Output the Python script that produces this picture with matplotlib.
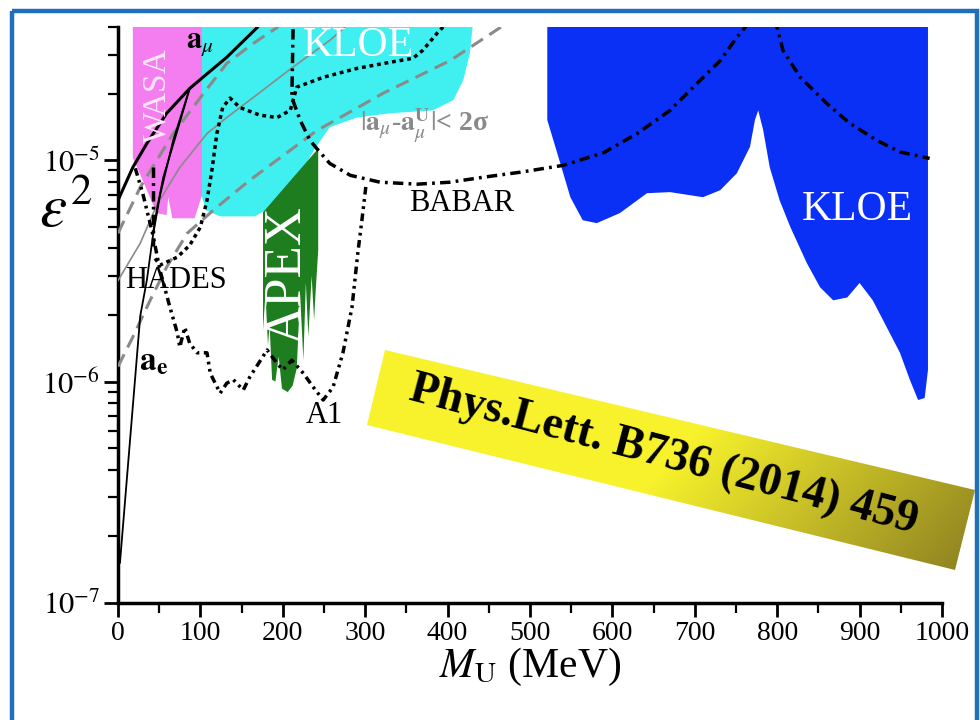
import numpy as np
import matplotlib
matplotlib.use('Agg')
import matplotlib.pyplot as plt
from matplotlib.patches import Polygon, Rectangle
from matplotlib.ticker import LogLocator, NullFormatter, MultipleLocator

plt.rcParams['font.family'] = ['Liberation Serif', 'DejaVu Serif']
plt.rcParams['mathtext.fontset'] = 'stix'

# --- exclusion regions: M_U (MeV) vs eps^2 ---
wasa_m = [18, 18, 47, 59, 61, 66, 93, 100, 102, 102]
wasa_e = [5e-5, 1.03e-5, 5.77e-6, 5.65e-6, 6.81e-6, 5.47e-6, 5.47e-6, 6.61e-6, 6.92e-6, 5e-5]

kloe1_m = [102, 102, 107, 124, 166, 190, 215, 239, 257, 290, 330, 382, 407, 419, 427, 433]
kloe1_e = [5e-5, 6.81e-6, 5.94e-6, 5.58e-6, 5.58e-6, 6.27e-6, 7.96e-6, 1.13e-5, 1.41e-5,
           1.56e-5, 1.63e-5, 1.68e-5, 1.87e-5, 2.30e-5, 3.04e-5, 5e-5]

apex_m = [176, 243, 243, 240, 238, 235, 231, 228, 225, 221, 217, 212, 206, 199, 195,
          191, 187, 184, 182, 179, 176]
apex_e = [5.82e-6, 1.13e-5, 3.93e-6, 2.6e-6, 1.9e-6, 3.0e-6, 1.6e-6, 2.8e-6, 1.25e-6,
          2.5e-6, 1.15e-6, 9.6e-7, 8.97e-7, 9.3e-7, 1.3e-6, 1.0e-6, 1.02e-6, 1.8e-6,
          1.46e-6, 2.5e-6, 1.71e-6]

kloe2_m = [521, 521, 533, 549, 564, 581, 609, 642, 670, 710, 731, 751, 767, 773, 777,
           783, 791, 803, 816, 836, 852, 868, 885, 900, 916, 933, 949, 961, 971, 979, 983, 983]
kloe2_e = [5e-5, 1.52e-5, 1.08e-5, 6.81e-6, 5.36e-6, 5.2e-6, 5.77e-6, 7.1e-6, 7.18e-6,
           6.81e-6, 7.33e-6, 8.73e-6, 1.15e-5, 1.52e-5, 1.68e-5, 1.37e-5, 9.29e-6,
           6.59e-6, 4.99e-6, 3.43e-6, 2.67e-6, 2.33e-6, 2.40e-6, 2.79e-6, 2.33e-6,
           1.76e-6, 1.35e-6, 1.02e-6, 8.26e-7, 8.43e-7, 1.13e-6, 5e-5]

# --- limit curves ---
babar_m = [213, 211, 221, 233, 243, 257, 282, 318, 363, 403, 443, 488, 540, 589, 630,
           670, 703, 731, 751, 761, 780, 800, 807, 828, 860, 888, 921, 949, 985]
babar_e = [5.0e-5, 1.92e-5, 1.52e-5, 1.23e-5, 1.11e-5, 9.68e-6, 8.55e-6, 7.96e-6, 7.80e-6,
           7.96e-6, 8.38e-6, 8.83e-6, 9.48e-6, 1.08e-5, 1.32e-5, 1.68e-5, 2.23e-5,
           2.82e-5, 3.59e-5, 3.98e-5, 5.6e-5, 3.98e-5, 3.14e-5, 2.37e-5, 1.81e-5,
           1.47e-5, 1.23e-5, 1.09e-5, 1.02e-5]

hades_m = [45, 51, 72, 87, 100, 108, 114, 120, 127, 136, 148, 172, 193, 209, 217, 249,
           290, 330, 358, 370, 387, 399]
hades_e = [3.6e-6, 3.36e-6, 3.65e-6, 4.13e-6, 4.99e-6, 6.59e-6, 9.02e-6, 1.32e-5, 1.73e-5,
           1.91e-5, 1.73e-5, 1.60e-5, 1.56e-5, 1.68e-5, 2.14e-5, 2.37e-5, 2.60e-5,
           2.77e-5, 2.89e-5, 3.14e-5, 3.74e-5, 4.17e-5]

a1_m = [21, 30, 42.5, 51, 63, 72, 75, 81, 87, 96, 108, 112, 124, 132, 140, 152, 160, 181,
        193, 200, 211, 225, 237, 249, 261, 273, 284, 291, 296, 301]
a1_e = [9.2e-6, 7.1e-6, 4.58e-6, 3.18e-6, 2.17e-6, 1.66e-6, 1.43e-6, 1.76e-6, 1.49e-6,
        1.35e-6, 1.35e-6, 1.09e-6, 8.87e-7, 9.84e-7, 1.02e-6, 9.16e-7, 1.05e-6, 1.39e-6,
        1.21e-6, 1.13e-6, 1.25e-6, 1.09e-6, 9.44e-7, 8.26e-7, 9.44e-7, 1.35e-6, 2.17e-6,
        3.80e-6, 5.36e-6, 7.71e-6]

tick_m = [43, 43]
tick_e = [9.3e-6, 4.1e-6]

amu_m = [0, 18, 35, 59, 87, 103, 132, 169, 180]
amu_e = [6.59e-6, 9.29e-6, 1.19e-5, 1.63e-5, 2.11e-5, 2.37e-5, 2.92e-5, 3.98e-5, 4.5e-5]

ae_m = [2.4, 27, 35, 42.5, 51, 67, 87]
ae_e = [1.52e-7, 1.98e-6, 2.87e-6, 4.58e-6, 6.95e-6, 1.23e-5, 2.11e-5]

ae2_m = [42.5, 47, 55, 72, 87]
ae2_e = [4.68e-6, 5.94e-6, 8.38e-6, 1.36e-5, 2.11e-5]

band_mid_m = [0, 27, 47, 75, 108, 132, 160, 212, 257, 275]
band_mid_e = [2.86e-6, 4.22e-6, 6.27e-6, 9.29e-6, 1.32e-5, 1.56e-5, 1.87e-5, 2.63e-5,
              3.48e-5, 3.98e-5]

band_hi_m = [0, 27, 67, 100, 132, 164, 193, 205]
band_hi_e = [4.68e-6, 7.55e-6, 1.32e-5, 1.92e-5, 2.74e-5, 3.37e-5, 3.98e-5, 4.5e-5]

band_lo_m = [0, 18, 39, 59, 84, 120, 160, 241, 322, 403, 464, 480]
band_lo_e = [1.17e-6, 1.59e-6, 2.33e-6, 3.29e-6, 4.68e-6, 6.14e-6, 8.13e-6, 1.36e-5,
             2.01e-5, 2.82e-5, 3.98e-5, 4.5e-5]

x_ticks = [0, 100, 200, 300, 400, 500, 600, 700, 800, 900, 1000]
y_ticks = [1e-7, 1e-6, 1e-5]
y_ticklabels = [r'$10^{-7}$', r'$10^{-6}$', r'$10^{-5}$']

fig = plt.figure(figsize=(9.8, 7.2), dpi=100)
ax = fig.add_axes([0.1204, 0.1625, 0.8408, 0.8])
ax.set_yscale('log')

# filled regions
ax.fill(kloe1_m, kloe1_e, color='#40f0f0', lw=0, zorder=1)
ax.fill(wasa_m, wasa_e, color='#f47ef0', lw=0, zorder=1)
ax.fill(apex_m, apex_e, color='#1e7d1e', lw=0, zorder=2)
ax.fill(kloe2_m, kloe2_e, color='#0a2ff5', lw=0, zorder=1)

# lines
gray = '#8a8a8a'
ax.plot(band_mid_m, band_mid_e, color=gray, lw=1.2, zorder=3)
ax.plot(band_hi_m, band_hi_e, color=gray, lw=2.2, dashes=(4.5, 2.5), zorder=3)
ax.plot(band_lo_m, band_lo_e, color=gray, lw=2.2, dashes=(4.5, 2.5), zorder=3)
ax.plot(amu_m, amu_e, color='black', lw=2.2, zorder=4)
ax.plot(ae_m, ae_e, color='black', lw=1.3, zorder=4)
ax.plot(ae2_m, ae2_e, color='black', lw=1.3, zorder=4)
ax.plot(babar_m, babar_e, color='black', lw=2.5, dashes=(3, 1.5, 0.8, 1.5), zorder=4)
ax.plot(tick_m, tick_e, color='black', lw=2.5, dashes=(3, 1.5, 0.8, 1.5), zorder=4)
ax.plot(hades_m, hades_e, color='black', lw=2.5, dashes=(1.1, 1.1), zorder=4)
ax.plot(a1_m, a1_e, color='black', lw=2.5, dashes=(2.2, 1.3, 0.8, 1.3, 0.8, 1.3), zorder=4)

# labels
ax.text(47, 1.96e-5, 'WASA', rotation=90, color='#ffe6fc', fontsize=24, ha='center', va='center', zorder=5)
ax.text(100, 3.37e-5, r'$\mathbf{a}_{\mu}$', fontsize=22, ha='center', va='center', zorder=5)
ax.text(292, 3.3e-5, 'KLOE', color='white', fontsize=30, ha='center', va='center', zorder=5)
ax.text(294, 1.44e-5, r'$|\mathbf{a}_{\mu}$-$\mathbf{a}_{\mu}^{\mathbf{U}}|$< 2σ', color=gray,
        fontsize=20, fontweight='bold', ha='left', va='center', zorder=5)
ax.text(417, 6.4e-6, 'BABAR', fontsize=22, ha='center', va='center', zorder=5)
ax.text(8.5, 2.87e-6, 'HADES', fontsize=22, ha='left', va='center', zorder=5)
ax.text(206, 3.03e-6, 'APEX', rotation=90, color='white', fontsize=38, ha='center', va='center', zorder=5)
ax.text(897, 6.0e-6, 'KLOE', color='white', fontsize=30, ha='center', va='center', zorder=5)
ax.text(26, 1.22e-6, r'$\mathbf{a}_{\mathbf{e}}$', fontsize=24, ha='left', va='center', zorder=5)
ax.text(251, 7.06e-7, 'A1', fontsize=22, ha='center', va='center', zorder=5)

ax.set_xlim(0, 1000)
ax.set_ylim(1e-7, 4e-5)
ax.set_xticks(x_ticks)
ax.set_xticklabels([str(v) for v in x_ticks], fontsize=20)
ax.xaxis.set_minor_locator(MultipleLocator(50))
ax.set_yticks(y_ticks)
ax.set_yticklabels(y_ticklabels, fontsize=22)
ax.yaxis.set_minor_locator(LogLocator(base=10, subs=np.arange(2, 10), numticks=20))
ax.yaxis.set_minor_formatter(NullFormatter())
ax.tick_params(which='major', direction='out', length=10, width=2, pad=3)
ax.tick_params(which='minor', direction='out', length=7, width=1.6)
for s in ['top', 'right']:
    ax.spines[s].set_visible(False)
for s in ['left', 'bottom']:
    ax.spines[s].set_linewidth(2.5)

fig.text(66 / 980, 1 - 212 / 720, r'$\varepsilon^2$', fontsize=44, ha='center', va='center')
fig.text(530 / 980, 1 - 667 / 720, r'$M_{\rm U}$ (MeV)', fontsize=30, ha='center', va='center')

# overlay: journal banner and frame
ov = fig.add_axes([0, 0, 1, 1], zorder=5)
ov.set_xlim(0, 980)
ov.set_ylim(720, 0)
ov.axis('off')
ov.patch.set_alpha(0)

corners = [(385, 350), (975, 490), (955, 570), (367, 425)]
band = Polygon(corners, closed=True, facecolor='none', edgecolor='none')
ov.add_patch(band)
gx, gy = np.meshgrid(np.linspace(360, 980, 300), np.linspace(345, 575, 120))
t = 0.75 * (gx - 367) / 608 + 0.25 * (gy - 350) / 220
t = np.clip((t - 0.5) / 0.5, 0, 1)[..., None]
c0 = np.array([0.97, 0.95, 0.17])
c1 = np.array([0.55, 0.50, 0.13])
img = c0 * (1 - t) + c1 * t
im = ov.imshow(img, extent=(360, 980, 575, 345), origin='upper', aspect='auto', zorder=1)
im.set_clip_path(band)
ov.text(664, 455, 'Phys.Lett. B736 (2014) 459', fontsize=33, fontweight='bold',
        rotation=-14.8, rotation_mode='anchor', ha='center', va='center', zorder=2)
ov.add_patch(Rectangle((12, 11), 965, 740, fill=False, edgecolor='#1f6fbd', lw=3.2, clip_on=False))
ov.set_xlim(0, 980)
ov.set_ylim(720, 0)

fig.savefig('out.png', dpi=100)
